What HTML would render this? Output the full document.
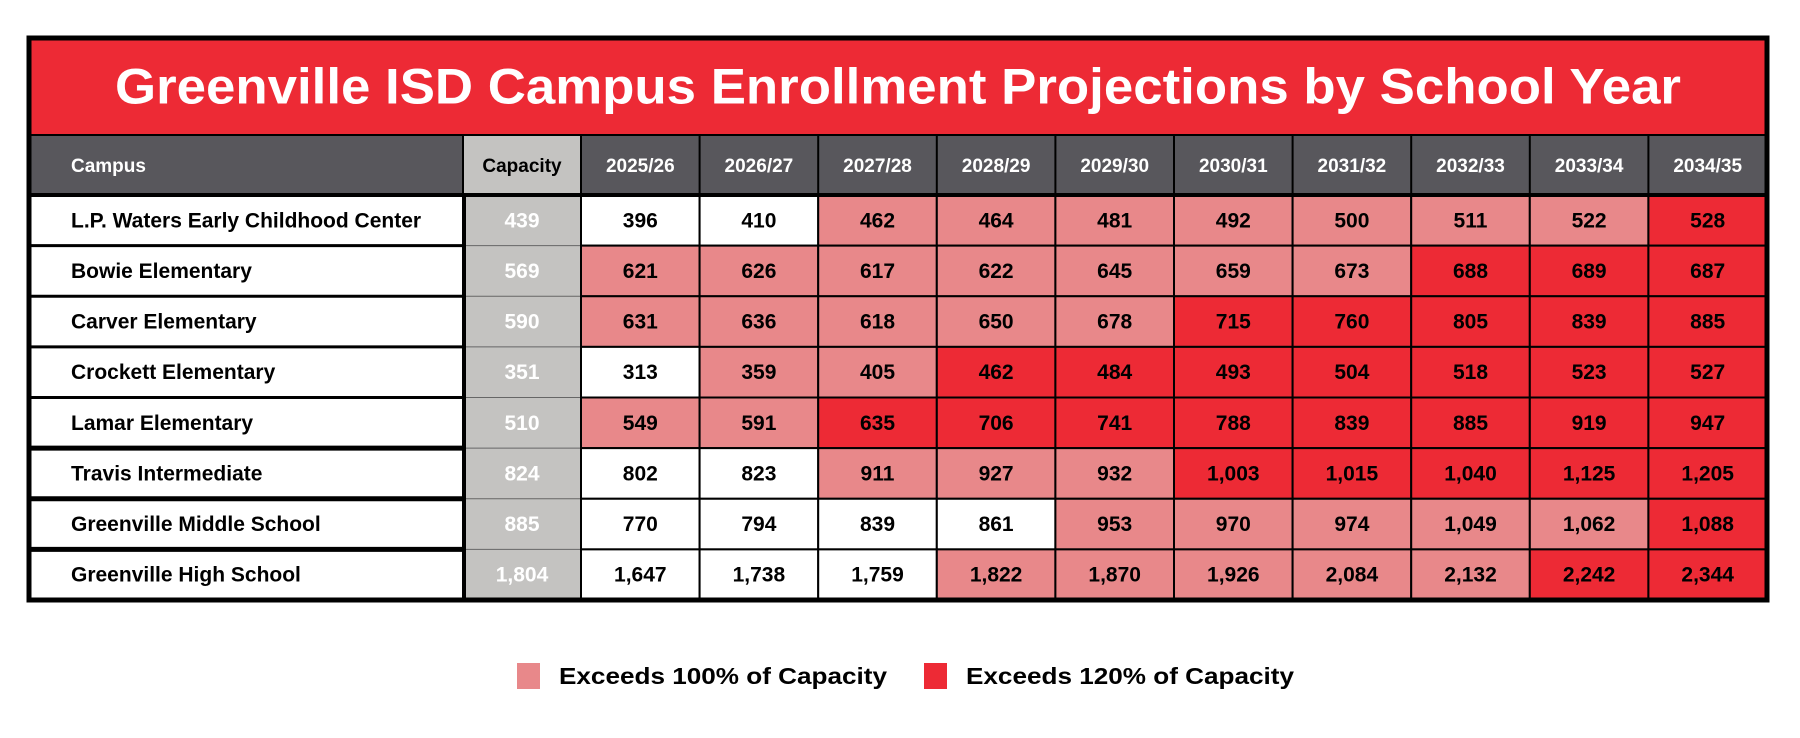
<!DOCTYPE html>
<html><head><meta charset="utf-8">
<style>
html,body{margin:0;padding:0;background:#fff;}
svg{display:block;font-family:"Liberation Sans",sans-serif;}
</style></head>
<body>
<svg id="chart" width="1800" height="738" viewBox="0 0 1800 738"></svg>
<script>
const campuses = ["L.P. Waters Early Childhood Center","Bowie Elementary","Carver Elementary","Crockett Elementary","Lamar Elementary","Travis Intermediate","Greenville Middle School","Greenville High School"];
const years = ["2025/26","2026/27","2027/28","2028/29","2029/30","2030/31","2031/32","2032/33","2033/34","2034/35"];
const capacity = [439,569,590,351,510,824,885,1804];
const enrollWaters = [396,410,462,464,481,492,500,511,522,528];
const enrollBowie = [621,626,617,622,645,659,673,688,689,687];
const enrollCarver = [631,636,618,650,678,715,760,805,839,885];
const enrollCrockett = [313,359,405,462,484,493,504,518,523,527];
const enrollLamar = [549,591,635,706,741,788,839,885,919,947];
const enrollTravis = [802,823,911,927,932,1003,1015,1040,1125,1205];
const enrollMiddle = [770,794,839,861,953,970,974,1049,1062,1088];
const enrollHigh = [1647,1738,1759,1822,1870,1926,2084,2132,2242,2344];
const enrollment = [enrollWaters,enrollBowie,enrollCarver,enrollCrockett,enrollLamar,enrollTravis,enrollMiddle,enrollHigh];

const NS="http://www.w3.org/2000/svg";
const svg=document.getElementById('chart');
function mk(tag,attrs,parent){const e=document.createElementNS(NS,tag);for(const k in attrs)e.setAttribute(k,attrs[k]);(parent||svg).appendChild(e);return e;}
const L=29,R=1767,T=38,HT=135,HB=195,B=600;
const campusR=463,capR=581;
const colW=(R-capR)/years.length;
const rowH=(B-HB)/campuses.length;
const colX=i=>capR+i*colW;
const rowY=i=>HB+i*rowH;
const fmt=v=>v.toLocaleString('en-US');
const RED="#ED2A35",PINK="#E8888A",GRAY="#58575C",CAPG="#C4C3C1";

let r=mk('rect',{x:L,y:T,width:R-L,height:HT-T,fill:RED});


let t=mk('text',{x:(L+R)/2,y:(T+HT)/2+17,'text-anchor':'middle','font-size':50,'font-weight':'bold',fill:'#fff',textLength:1566,lengthAdjust:'spacingAndGlyphs'});
t.textContent="Greenville ISD Campus Enrollment Projections by School Year";



r=mk('rect',{x:L,y:HT,width:R-L,height:HB-HT,fill:GRAY});


r=mk('rect',{x:campusR,y:HT,width:capR-campusR,height:B-HT,fill:CAPG});


t=mk('text',{x:71,y:(HT+HB)/2+7,'font-size':19,'font-weight':'bold',fill:'#fff'});
t.textContent="Campus";


t=mk('text',{x:(campusR+capR)/2,y:(HT+HB)/2+7,'text-anchor':'middle','font-size':19,'font-weight':'bold',fill:'#000'});
t.textContent="Capacity";


years.forEach((y,i)=>{
  const tx=mk('text',{x:colX(i)+colW/2,y:(HT+HB)/2+7,'text-anchor':'middle','font-size':19,'font-weight':'bold',fill:'#fff'});
  tx.textContent=y;
  
  
});

campuses.forEach((c,ri)=>{
  const y0=rowY(ri);
  const bg=mk('rect',{x:L,y:y0,width:campusR-L,height:rowH,fill:'#fff'});
  
  
  const nm=mk('text',{x:71,y:y0+rowH/2+7,'font-size':21,'font-weight':'bold',fill:'#000'});
  nm.textContent=c;
  
  
  const cp=mk('text',{x:(campusR+capR)/2,y:y0+rowH/2+7,'text-anchor':'middle','font-size':21,'font-weight':'bold',fill:'#fff'});
  cp.textContent=fmt(capacity[ri]);
  
  
  enrollment[ri].forEach((v,ci)=>{
    const ratio=v/capacity[ri];
    const fill=ratio>1.2?RED:(ratio>1?PINK:'#fff');
    const cell=mk('rect',{x:colX(ci),y:y0,width:colW,height:rowH,fill:fill,stroke:'#000','stroke-width':2});
    
    
    const tv=mk('text',{x:colX(ci)+colW/2,y:y0+rowH/2+7,'text-anchor':'middle','font-size':21,'font-weight':'bold',fill:'#000'});
    tv.textContent=fmt(v);
    
    
  });
  mk('line',{x1:L,x2:campusR,y1:y0,y2:y0,stroke:'#000','stroke-width':(ri>=5?5:3)});
  mk('line',{x1:campusR,x2:capR,y1:y0,y2:y0,stroke:'#666','stroke-width':1});
});
mk('line',{x1:campusR+1,x2:campusR+1,y1:HB,y2:B,stroke:'#000','stroke-width':4});
mk('line',{x1:capR,x2:capR,y1:HT,y2:B,stroke:'#000','stroke-width':2});
years.forEach((y,i)=>{mk('line',{x1:colX(i),x2:colX(i),y1:HT,y2:HB,stroke:'#000','stroke-width':2});});
mk('line',{x1:campusR,x2:campusR,y1:HT,y2:HB,stroke:'#000','stroke-width':2});
mk('line',{x1:L,x2:R,y1:HT,y2:HT,stroke:'#000','stroke-width':2});
mk('line',{x1:L,x2:R,y1:HB,y2:HB,stroke:'#000','stroke-width':4});
mk('rect',{x:L,y:T,width:R-L,height:B-T,fill:'none',stroke:'#000','stroke-width':5});

const legendLabels=["Exceeds 100% of Capacity","Exceeds 120% of Capacity"];
const legendColors=[PINK,RED];
const legendX=[517,924];
legendLabels.forEach((lab,i)=>{
  const sw=mk('rect',{x:legendX[i],y:663,width:23,height:26,fill:legendColors[i]});
  
  
  const lt=mk('text',{x:legendX[i]+42,y:684,'font-size':23,'font-weight':'bold',fill:'#000',textLength:328,lengthAdjust:'spacingAndGlyphs'});
  lt.textContent=lab;
  
  
});
</script>
</body></html>
